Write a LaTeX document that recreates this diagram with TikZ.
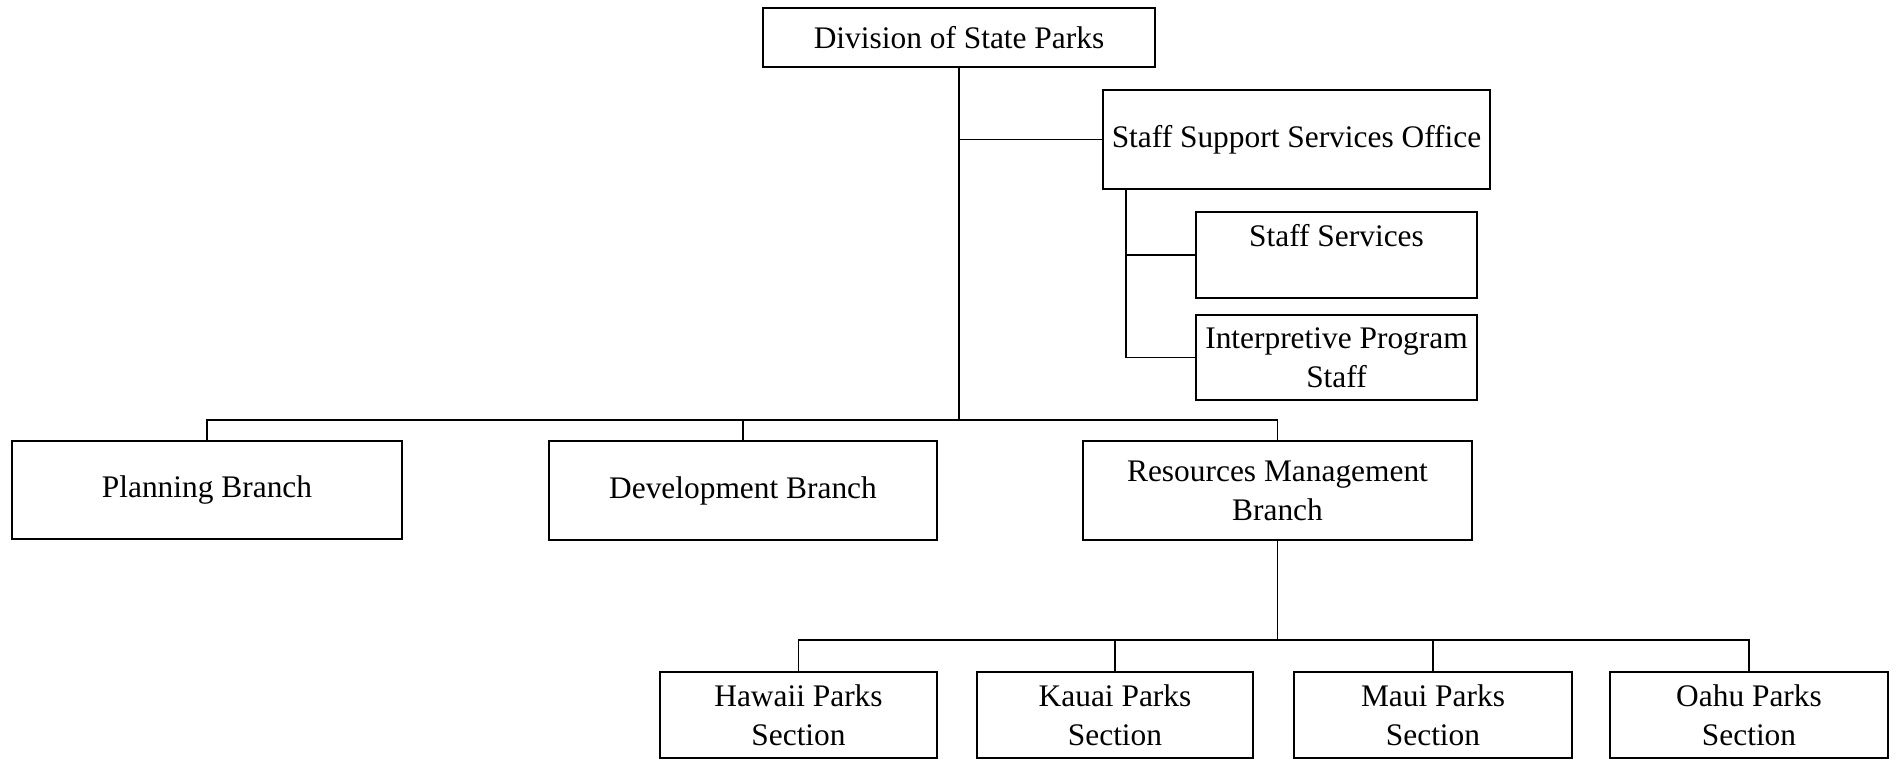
\documentclass[tikz,border=0pt]{standalone}
\usepackage{fontspec}
\setmainfont{Liberation Serif}
\begin{document}
\begin{tikzpicture}[x=0.5pt,y=-0.5pt,
  box/.style={draw,line width=0.9pt,inner sep=0pt,align=center,
    font=\fontsize{15.7pt}{19.5pt}\selectfont},
  sz/.style 2 args={minimum width=#1*0.5pt,minimum height=#2*0.5pt},
  conn/.style={line width=0.9pt}]
\useasboundingbox (0,0) rectangle (1900,760);
\node[box,sz={392}{59}] (div) at (959,37.5) {Division of State Parks};
\node[box,sz={387}{99}] (sso) at (1296.5,139.5) {Staff Support Services Office};
\node[box,sz={281}{86}] (ss) at (1336.5,255) {Staff Services\\ ~};
\node[box,sz={281}{85}] (ips) at (1336.5,357.5) {Interpretive Program\\Staff};
\node[box,sz={390}{98}] (plan) at (207,490) {Planning Branch};
\node[box,sz={388}{99}] (dev) at (743,490.5) {Development Branch};
\node[box,sz={389}{99}] (res) at (1277.5,490.5) {Resources Management\\Branch};
\node[box,sz={277}{86}] (haw) at (798.5,715) {Hawaii Parks\\Section};
\node[box,sz={276}{86}] (kau) at (1115,715) {Kauai Parks\\Section};
\node[box,sz={278}{86}] (mau) at (1433,715) {Maui Parks\\Section};
\node[box,sz={278}{86}] (oah) at (1749,715) {Oahu Parks\\Section};
% buses
\coordinate (busy) at (0,420);
\coordinate (secy) at (0,640);
\coordinate (sx) at (1126,189);
% trunk
\draw[conn] (div.south) -- (div.south |- busy);
\draw[conn] (div.south |- sso.west) -- (sso.west);
% staff support
\draw[conn] (sx) |- (ips.west);
\draw[conn] (ss.west -| sx) -- (ss.west);
% branches
\draw[conn] (plan.north) -- (plan.north |- busy) -- (res.north |- busy) -- (res.north);
\draw[conn] (dev.north) -- (dev.north |- busy);
% sections
\draw[conn] (res.south) -- (res.south |- secy);
\draw[conn] (haw.north) -- (haw.north |- secy) -- (oah.north |- secy) -- (oah.north);
\draw[conn] (kau.north) -- (kau.north |- secy);
\draw[conn] (mau.north) -- (mau.north |- secy);
\end{tikzpicture}
\end{document}
